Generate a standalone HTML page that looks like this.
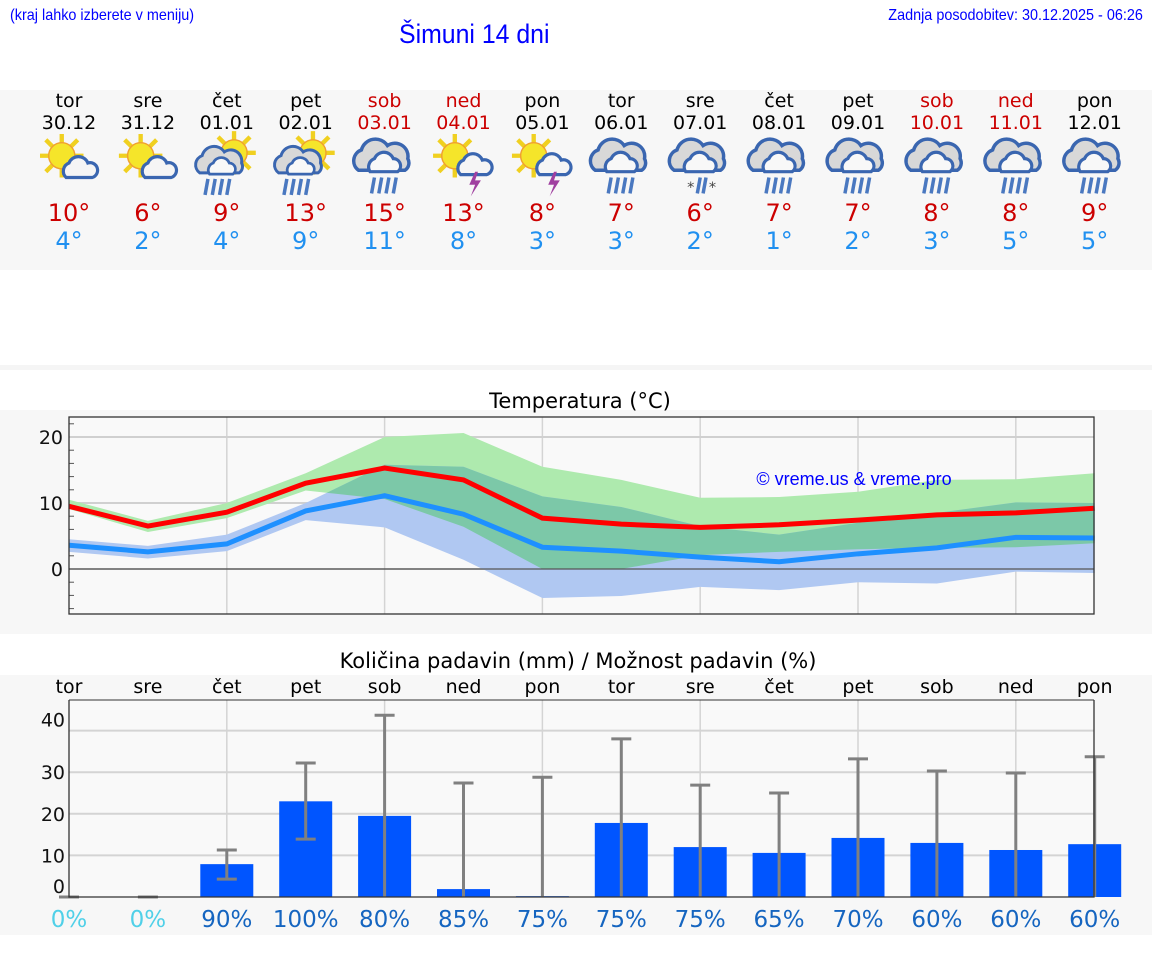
<!DOCTYPE html>
<html><head><meta charset="utf-8">
<style>
body{margin:0;width:1152px;height:975px;background:#fff;font-family:"DejaVu Sans","Liberation Sans",sans-serif;position:relative;overflow:hidden}
.abs{position:absolute}
.hdr{font-family:"Liberation Sans",sans-serif;color:#0000ff;font-size:16px;transform-origin:0 0}
</style></head><body>
<div class="abs hdr" style="left:10px;top:7px;transform:scaleX(0.9)">(kraj lahko izberete v meniju)</div>
<div class="abs hdr" style="left:399px;top:19px;font-size:27px;transform:scaleX(0.92)">Šimuni 14 dni</div>
<div class="abs hdr" style="right:9px;top:7px;transform:scaleX(0.9);transform-origin:100% 0">Zadnja posodobitev: 30.12.2025 - 06:26</div>
<svg class="abs" style="left:0;top:0" width="1152" height="975">
<defs>
<g id="sun"><g stroke="#f0d020" stroke-width="3"><line x1="-15" y1="0" x2="15" y2="0"/><line x1="0" y1="-15" x2="0" y2="15"/><line x1="-11" y1="-11" x2="11" y2="11"/><line x1="-11" y1="11" x2="11" y2="-11"/></g><circle r="9" fill="#f5e52a" stroke="#f0a030" stroke-width="1"/></g>
<g id="cloudS"><path d="M-10,6 a6,6 0 0 1 2,-10 a7,7 0 0 1 13,0 a5,5 0 0 1 3,10 z" fill="#f5f5f5" stroke="#3a66b0" stroke-width="2.2"/></g>
<g id="cloudB"><path d="M-18,8 a8,8 0 0 1 2,-14 a10,10 0 0 1 18,-3 a9,9 0 0 1 14,9 a6,6 0 0 1 -2,8 z" fill="#d8d8d8" stroke="#3a66b0" stroke-width="2.4"/><path d="M-10,9 a6,6 0 0 1 3,-9 a7,7 0 0 1 13,0 a5,5 0 0 1 3,9 z" fill="#f8f8f8" stroke="#3a66b0" stroke-width="2.2"/></g>
<g id="rain" stroke="#4a78c0" stroke-width="2.4"><line x1="-7" y1="0" x2="-9" y2="11"/><line x1="-2" y1="0" x2="-4" y2="11"/><line x1="3" y1="0" x2="1" y2="11"/><line x1="8" y1="0" x2="6" y2="11"/></g>
<g id="bolt"><path d="M0,-6 L-4,3 L0,3 L-3,11 L4,0 L0,0 L2,-6z" fill="#a040a0"/></g>
</defs>
<rect x="0" y="90" width="1152" height="180" fill="#f7f7f7"/>
<rect x="0" y="365" width="1152" height="5" fill="#f5f5f5"/>
<rect x="0" y="410" width="1152" height="224" fill="#f7f7f7"/>
<rect x="0" y="675" width="1152" height="260" fill="#f7f7f7"/>
<g id="daily"></g>
<text x="580" y="408" font-size="21" text-anchor="middle" fill="#000">Temperatura (°C)</text>
<g id="temp"></g>
<text x="578" y="668" font-size="21" text-anchor="middle" fill="#000">Količina padavin (mm) / Možnost padavin (%)</text>
<g id="prec"></g>
</svg>
<script>
const days=["tor","sre","čet","pet","sob","ned","pon","tor","sre","čet","pet","sob","ned","pon"];
const dates=["30.12","31.12","01.01","02.01","03.01","04.01","05.01","06.01","07.01","08.01","09.01","10.01","11.01","12.01"];
const weekend=[0,0,0,0,1,1,0,0,0,0,0,1,1,0];
const icons=["sc","sc","sr","sr","cr","st","st","cr","cs","cr","cr","cr","cr","cr"];
const hiLabels=[10,6,9,13,15,13,8,7,6,7,7,8,8,9];
const loLabels=[4,2,4,9,11,8,3,3,2,1,2,3,5,5];
const tMax=[9.5,6.5,8.6,13.0,15.3,13.5,7.7,6.8,6.3,6.7,7.4,8.2,8.5,9.2];
const tMin=[3.6,2.6,3.8,8.8,11.1,8.3,3.3,2.7,1.8,1.1,2.3,3.2,4.8,4.7];
const maxHi=[10.5,7.3,10,14.5,20,20.6,15.5,13.5,10.8,10.9,11.7,13.5,13.6,14.5];
const maxLo=[9.1,5.6,7.7,11.9,10.6,6.4,0,0,2.1,2.6,3.0,3.2,3.3,3.9];
const minHi=[4.5,3.5,5.2,10,15.8,15.5,11,9.4,6.5,5.2,7,8.5,10.1,10];
const minLo=[2.6,1.6,2.7,7.4,6.3,1.4,-4.4,-4.1,-2.7,-3.2,-2,-2.2,-0.4,-0.6];
const precip=[0,0,7.9,23,19.5,1.9,0.2,17.8,12,10.6,14.2,13,11.3,12.7];
const errHi=[0,0,11.3,32.2,43.7,27.4,28.8,38,26.9,25,33.2,30.3,29.8,33.7];
const errLo=[0,0,4.3,13.9,0,0,0,0,0,0,0,0,0,0];
const chance=[0,0,90,100,80,85,75,75,75,65,70,60,60,60];
const tTicks=[0,10,20];
const pTicks=[0,10,20,30,40];
const NS="http://www.w3.org/2000/svg";
function mk(parent,tag,attrs,text){const e=document.createElementNS(NS,tag);for(const k in attrs)e.setAttribute(k,attrs[k]);if(text!==undefined)e.textContent=text;parent.appendChild(e);return e;}
const X=i=>69+i*78.9;
const dg=document.getElementById('daily');
days.forEach((d,i)=>{
 const c=weekend[i]?"#cc0000":"#000";
 let t=mk(dg,'text',{x:X(i),y:107,'font-size':19,'text-anchor':'middle',fill:c},d);
 
 
 t=mk(dg,'text',{x:X(i),y:129,'font-size':19,'text-anchor':'middle',fill:c},dates[i]);
 
 
 const g=mk(dg,'g',{transform:`translate(${X(i)},163) scale(1.45)`});
 
 
 const k=icons[i];
 if(k=="sc"){mk(g,'use',{href:'#sun',x:-5,y:-5});mk(g,'use',{href:'#cloudS',x:8,y:4});}
 if(k=="sr"){mk(g,'use',{href:'#sun',x:5,y:-7});mk(g,'use',{href:'#cloudB',x:-4,y:0,transform:'scale(0.85)'});mk(g,'use',{href:'#rain',x:-6,y:11});}
 if(k=="st"){mk(g,'use',{href:'#sun',x:-6,y:-5});mk(g,'use',{href:'#cloudS',x:8,y:2});mk(g,'use',{href:'#bolt',x:8,y:12});}
 if(k=="cr"){mk(g,'use',{href:'#cloudB',x:0,y:-3});mk(g,'use',{href:'#rain',x:0,y:10});}
 if(k=="cs"){mk(g,'use',{href:'#cloudB',x:0,y:-3});mk(g,'text',{x:-9,y:20,'font-size':10,fill:'#444'},'*');mk(g,'text',{x:6,y:20,'font-size':10,fill:'#444'},'*');mk(g,'line',{x1:0,y1:10,x2:-2,y2:21,stroke:'#4a78c0','stroke-width':2.4});mk(g,'line',{x1:4,y1:10,x2:2,y2:21,stroke:'#4a78c0','stroke-width':2.4});}
 t=mk(dg,'text',{x:X(i),y:221,'font-size':24,'text-anchor':'middle',fill:'#cc0000'},hiLabels[i]+'°');
 
 
 t=mk(dg,'text',{x:X(i),y:249,'font-size':24,'text-anchor':'middle',fill:'#2090f0'},loLabels[i]+'°');
 
 
});
const tg=document.getElementById('temp');
const TY=v=>569-v*6.6;
mk(tg,'rect',{x:69,y:417,width:1025,height:197,fill:'#f9f9f9'});
[2,4,6,8,10,12].forEach(i=>mk(tg,'line',{x1:X(i),x2:X(i),y1:417,y2:614,stroke:'#d4d4d4','stroke-width':1.5}));
tTicks.forEach(v=>{mk(tg,'line',{x1:69,x2:1094,y1:TY(v),y2:TY(v),stroke:v==0?'#555':'#d0d0d0','stroke-width':v==0?1.2:2});
 const t=mk(tg,'text',{x:63,y:TY(v)+7,'font-size':19,'text-anchor':'end',fill:'#111'},v);
 
 });
for(let v=-6;v<=22;v+=2){if(v%10)mk(tg,'line',{x1:69,x2:74,y1:TY(v),y2:TY(v),stroke:'#555'});}
const band=(hi,lo)=>hi.map((v,i)=>X(i)+','+TY(v)).concat(lo.map((v,i)=>X(i)+','+TY(v)).reverse()).join(' ');
const clip=mk(tg,'clipPath',{id:'gclip'});mk(clip,'polygon',{points:band(maxHi,maxLo)});
let p=mk(tg,'polygon',{points:band(maxHi,maxLo),fill:'#aeeaae'});


p=mk(tg,'polygon',{points:band(minHi,minLo),fill:'#b0c8f2'});


mk(tg,'polygon',{points:band(minHi,minLo),fill:'#7cc8a8','clip-path':'url(#gclip)'});
mk(tg,'line',{x1:69,x2:1094,y1:TY(0),y2:TY(0),stroke:'#555','stroke-width':1.2});
p=mk(tg,'polyline',{points:tMin.map((v,i)=>X(i)+','+TY(v)).join(' '),fill:'none',stroke:'#1e90ff','stroke-width':5});


p=mk(tg,'polyline',{points:tMax.map((v,i)=>X(i)+','+TY(v)).join(' '),fill:'none',stroke:'#ff0000','stroke-width':5});


mk(tg,'rect',{x:69,y:417,width:1025,height:197,fill:'none',stroke:'#333','stroke-width':1.3});
let w=mk(tg,'text',{x:854,y:485,'font-size':18,'text-anchor':'middle',fill:'#0000ff','font-family':'Liberation Sans, sans-serif'},'© vreme.us & vreme.pro');


const pg=document.getElementById('prec');
const PY=v=>897-v*4.16;
mk(pg,'rect',{x:69,y:700,width:1025,height:197,fill:'#f9f9f9'});
[2,4,6,8,10,12].forEach(i=>mk(pg,'line',{x1:X(i),x2:X(i),y1:700,y2:897,stroke:'#d4d4d4','stroke-width':1.5}));
const pLabelOff=[-11,0,0,0,-11];
pTicks.forEach((v,j)=>{if(v>0)mk(pg,'line',{x1:69,x2:1094,y1:PY(v),y2:PY(v),stroke:'#d4d4d4','stroke-width':2});
 const t=mk(pg,'text',{x:65,y:PY(v)+7+pLabelOff[j],'font-size':19,'text-anchor':'end',fill:'#111'},v);
 
 });
days.forEach((d,i)=>{
 const t=mk(pg,'text',{x:X(i),y:693,'font-size':19,'text-anchor':'middle',fill:'#000'},d);
 
 
 const r=mk(pg,'rect',{x:X(i)-26.5,y:PY(precip[i]),width:53,height:precip[i]*4.16,fill:'#0055ff'});
 
 
 const e=mk(pg,'g',{stroke:'#808080','stroke-width':3});
 
 
 mk(e,'line',{x1:X(i),x2:X(i),y1:PY(errHi[i]),y2:PY(errLo[i])});
 mk(e,'line',{x1:X(i)-10,x2:X(i)+10,y1:PY(errHi[i]),y2:PY(errHi[i])});
 if(errLo[i]>0)mk(e,'line',{x1:X(i)-10,x2:X(i)+10,y1:PY(errLo[i]),y2:PY(errLo[i])});
 const c=mk(pg,'text',{x:X(i),y:927,'font-size':23,'text-anchor':'middle',fill:chance[i]==0?'#50d0e8':'#1565c0'},chance[i]+'%');
 
 
});
mk(pg,'polyline',{points:'69,700 69,897 1094,897 1094,700',fill:'none',stroke:'#333','stroke-width':1.3});
mk(pg,'line',{x1:69,x2:1094,y1:700,y2:700,stroke:'#333','stroke-width':1});
</script>
</body></html>
